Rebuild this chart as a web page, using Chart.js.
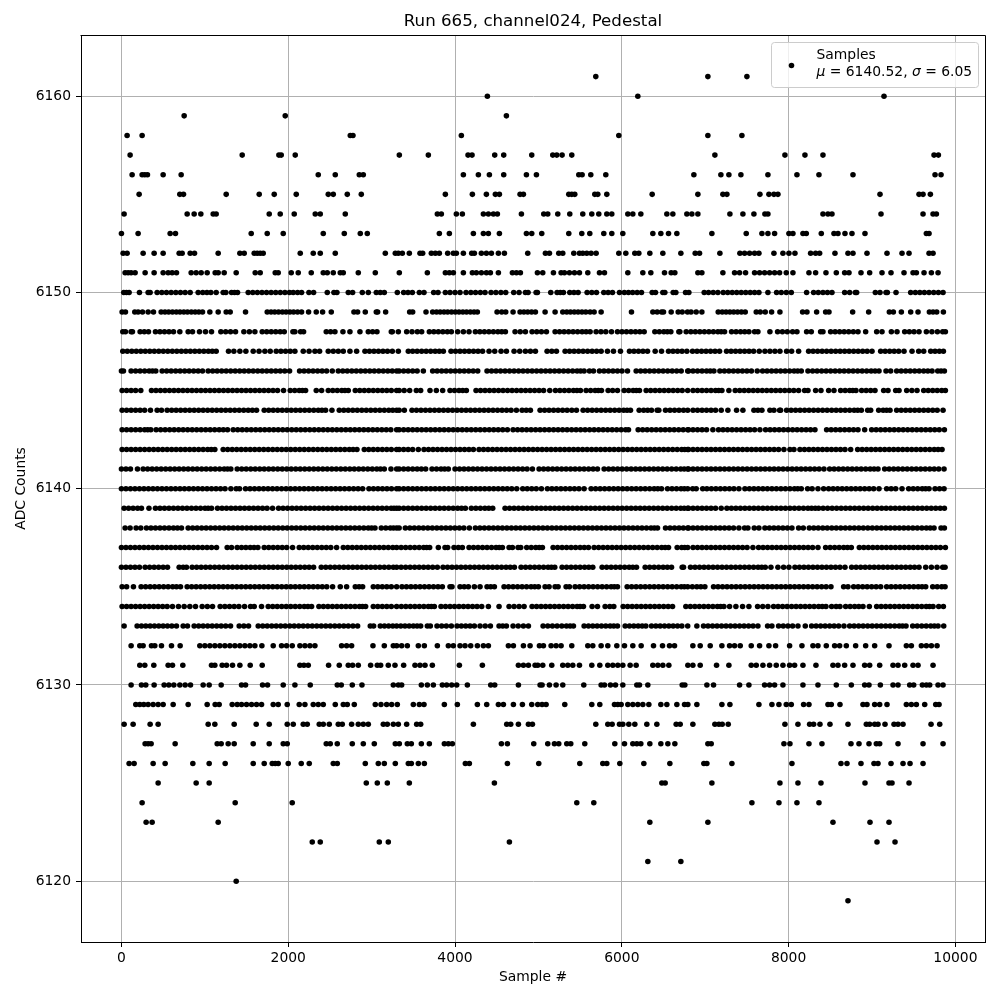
<!DOCTYPE html>
<html>
<head>
<meta charset="utf-8">
<script src="https://cdn.jsdelivr.net/npm/chart.js@4"></script>
<style>
body { margin: 0; background: #fff; }
#box { width: 1000px; height: 1000px; position: relative; }
</style>
</head>
<body>
<div id="box"><canvas id="canvas"></canvas></div>
<script>
const runTitle = "Run 665, channel024, Pedestal";
const xAxisName = "Sample #";
const yAxisName = "ADC Counts";
const xTickValues = [0, 2000, 4000, 6000, 8000, 10000];
const yTickValues = [6120, 6130, 6140, 6150, 6160];

// sample numbers, one list per ADC level
const s6119 = [8712];
const s6120 = [1376];
const s6121 = [6312,6708];
const s6122 = [2288,2384,3092,3200,4652,9060,9276];
const s6123 = [296,368,1160,6336,7032,8532,8976,9204];
const s6124 = [248,1364,2048,5460,5664,7560,7884,8100,8364];
const s6125 = [440,896,1052,2936,3068,3188,3452,4472,6480,6520,7080,7896,8112,8388,8916,9204,9240,9444];
const s6126 = [92,152,380,524,856,1052,1244,1580,1712,1808,1844,1880,2000,2156,2252,2540,2588,2924,3080,3152,3284,3440,3476,3560,3632,4124,4172,4628,5004,5496,5772,5820,5976,6264,6576,6984,7020,7320,8040,8628,8700,8868,9024,9072,9228,9372,9456,9612];
const s6127 = [284,320,356,644,1148,1196,1280,1352,1580,1772,1940,1988,2456,2504,2588,2768,2900,3032,3284,3332,3428,3476,3596,3692,3872,3920,3968,4556,4628,4944,5112,5192,5244,5340,5388,5556,5916,6032,6132,6180,6228,6336,6468,6552,6636,7032,7072,7944,8016,8244,8400,8748,8844,8964,9052,9092,9312,9612,9852];
const s6128 = [32,140,344,440,1040,1120,1352,1616,1772,1988,2060,2180,2228,2372,2420,2492,2600,2648,2760,2840,2900,2960,3140,3188,3260,3320,3420,3540,3588,4220,4620,4668,4760,4880,4928,5688,5832,5884,5972,6012,6084,6156,6300,6420,6652,6700,6852,7116,7164,7204,7276,7956,8112,8252,8300,8376,8496,8712,8932,8972,9032,9072,9156,9264,9312,9372,9708,9812];
const s6129 = [172,220,268,320,380,440,500,620,800,1028,1124,1172,1328,1388,1440,1500,1560,1620,1680,1820,1880,1988,2132,2200,2300,2360,2420,2564,2660,2708,2792,3044,3112,3180,3240,3308,3500,3572,3628,3872,4028,4268,4380,4520,4580,4700,4808,4920,4992,5044,5092,5316,5640,5736,5912,5952,5992,6072,6132,6192,6252,6324,6468,6540,6660,6752,6792,6900,7200,7296,7644,7800,7884,7972,8032,8180,8244,8472,8512,8616,8892,8940,9032,9092,9180,9412,9472,9532,9632,9764,9804];
const s6130 = [116,240,292,392,512,568,628,700,764,828,980,1052,1196,1440,1488,1692,1752,1940,2080,2264,2588,2636,2768,2884,3260,3320,3360,3596,3668,3740,3848,3900,3960,4020,4148,4428,4476,4760,5020,5044,5132,5212,5292,5544,5752,5792,5864,5924,6012,6180,6212,6312,6724,6756,7020,7100,7412,7524,7712,7772,7832,7932,8172,8352,8572,8752,8912,8964,9100,9252,9312,9452,9500,9604,9652,9692,9792,9852];
const s6131 = [220,280,388,560,612,736,1080,1120,1208,1260,1332,1420,1544,1688,2140,2188,2240,2484,2612,2720,2772,2840,2988,3068,3108,3200,3280,3384,3520,3580,3640,3728,4052,4328,4760,4820,4880,4960,4992,5052,5160,5292,5352,5412,5492,5640,5736,5832,5892,5952,6012,6100,6172,6372,6432,6492,6564,6792,6852,6940,7136,7284,7552,7612,7692,7772,7852,7932,8012,8072,8172,8328,8532,8592,8672,8772,8912,8972,9092,9252,9312,9392,9492,9552,9732];
const s6132 = [116,220,260,360,400,480,600,704,940,1000,1060,1120,1180,1240,1300,1360,1420,1480,1540,1600,1684,1820,1920,1980,2048,2140,2200,2260,2320,2640,2700,2760,3016,3152,3260,3300,3360,3428,3560,3632,3788,3920,3980,4060,4120,4188,4268,4340,4400,4640,4700,4820,4900,5012,5060,5152,5212,5272,5400,5592,5652,5752,5832,5940,6032,6132,6232,6380,6488,6572,6632,6852,6940,7060,7200,7292,7352,7420,7552,7652,7764,7844,8012,8160,8292,8352,8452,8552,8612,8692,8804,8924,9032,9204,9412,9472,9592,9652,9712,9780];
const s6133 = [32,188,240,292,344,396,448,500,552,604,660,740,792,872,926,980,1034,1088,1142,1196,1250,1308,1412,1468,1524,1640,1694,1748,1802,1856,1910,1964,2018,2072,2126,2180,2234,2288,2342,2396,2450,2504,2558,2612,2666,2720,2776,2832,2984,3024,3104,3154,3204,3254,3300,3350,3400,3450,3500,3545,3588,3668,3704,3784,3840,3896,3956,4024,4076,4128,4180,4232,4300,4362,4424,4528,4572,4616,4696,4758,4820,4880,5056,5112,5168,5224,5280,5336,5380,5420,5548,5600,5652,5704,5756,5808,5860,5904,5948,6040,6092,6144,6196,6244,6288,6356,6408,6460,6512,6564,6616,6668,6720,6790,6900,6980,7034,7088,7142,7196,7250,7304,7358,7412,7466,7520,7574,7632,7748,7800,7880,7936,7992,8048,8112,8200,8276,8330,8384,8438,8492,8546,8600,8664,8732,8786,8840,8894,8948,9002,9056,9110,9164,9218,9272,9326,9366,9408,9488,9542,9596,9650,9704,9748,9792,9860];
const s6134 = [8,62,116,170,224,278,332,386,440,494,548,612,684,752,820,888,968,1030,1092,1184,1240,1296,1352,1408,1476,1548,1592,1680,1760,1814,1868,1922,1976,2030,2084,2138,2192,2236,2280,2368,2422,2476,2530,2584,2638,2692,2746,2800,2854,2890,2928,3020,3074,3128,3182,3236,3300,3356,3410,3464,3518,3572,3626,3680,3716,3752,3832,3886,3940,3994,4048,4102,4156,4210,4264,4320,4400,4528,4648,4708,4768,4828,4924,4978,5032,5086,5140,5194,5248,5302,5356,5410,5464,5500,5540,5644,5708,5800,5856,5904,6016,6070,6124,6178,6232,6286,6340,6394,6448,6502,6556,6608,6768,6822,6876,6930,6984,7038,7092,7146,7185,7224,7292,7368,7448,7524,7628,7690,7752,7820,7874,7928,7982,8036,8090,8144,8198,8252,8306,8360,8404,8448,8516,8570,8616,8684,8738,8792,8842,8892,8968,9056,9110,9164,9218,9272,9326,9380,9434,9488,9542,9596,9650,9690,9732,9800,9856];
const s6135 = [8,62,144,236,290,344,398,452,506,560,614,660,708,788,842,896,950,1004,1058,1112,1166,1220,1274,1328,1382,1436,1490,1544,1598,1652,1706,1760,1814,1868,1922,1976,2030,2084,2138,2192,2246,2300,2354,2408,2462,2532,2624,2700,2804,2850,2892,3020,3074,3128,3182,3236,3300,3364,3418,3472,3526,3580,3634,3688,3742,3796,3848,3940,3964,4060,4110,4160,4232,4300,4384,4428,4472,4588,4642,4696,4750,4804,4858,4912,4956,5000,5080,5128,5200,5236,5332,5372,5440,5494,5548,5602,5656,5710,5764,5818,5872,5910,5948,6064,6118,6172,6226,6280,6334,6388,6442,6496,6550,6604,6658,6712,6750,6790,6846,6900,6948,6996,7100,7154,7208,7262,7316,7370,7424,7478,7532,7586,7640,7694,7748,7802,7856,7910,7964,8018,8072,8126,8180,8234,8288,8342,8396,8450,8508,8660,8712,8780,8834,8888,8942,8996,9050,9104,9176,9230,9284,9338,9392,9446,9500,9554,9600,9644,9728,9782,9836,9876];
const s6136 = [0,54,108,162,216,284,338,392,446,500,552,692,740,780,848,902,956,1010,1064,1118,1172,1226,1280,1334,1388,1442,1496,1550,1604,1658,1712,1766,1820,1874,1928,1982,2036,2090,2144,2198,2250,2304,2396,2450,2504,2558,2612,2666,2720,2774,2828,2882,2936,2990,3044,3098,3152,3206,3260,3300,3354,3408,3462,3516,3570,3624,3678,3732,3788,3856,3910,3964,4018,4072,4126,4180,4234,4288,4342,4396,4450,4504,4558,4612,4662,4712,4792,4846,4900,4954,5008,5062,5116,5156,5196,5284,5338,5392,5446,5500,5554,5604,5652,5764,5818,5872,5926,5980,6034,6088,6132,6176,6280,6334,6388,6442,6496,6546,6596,6724,6740,6824,6878,6932,6986,7040,7094,7148,7202,7256,7310,7364,7418,7472,7526,7580,7634,7678,7720,7788,7872,7940,8004,8076,8130,8184,8238,8292,8346,8400,8454,8508,8562,8616,8676,8756,8810,8864,8918,8972,9026,9080,9134,9188,9242,9296,9350,9404,9458,9510,9564,9644,9712,9780,9848,9876];
const s6137 = [0,54,108,162,216,270,324,378,432,486,540,594,648,702,756,810,864,918,972,1026,1080,1140,1268,1320,1388,1440,1492,1544,1590,1636,1712,1766,1820,1874,1928,1982,2052,2132,2186,2240,2294,2348,2402,2456,2510,2580,2660,2714,2768,2822,2876,2930,2984,3038,3092,3146,3200,3254,3300,3354,3408,3462,3516,3570,3624,3660,3696,3800,3880,3912,3988,4040,4088,4168,4222,4276,4330,4384,4438,4492,4530,4568,4648,4688,4756,4788,4860,4914,4968,5010,5048,5176,5230,5284,5338,5392,5446,5500,5550,5600,5668,5722,5776,5830,5884,5938,5992,6046,6100,6154,6208,6262,6316,6370,6424,6478,6520,6560,6664,6718,6754,6790,6854,6908,6962,7016,7070,7124,7178,7232,7286,7340,7394,7448,7502,7572,7640,7694,7748,7802,7856,7910,7964,8018,8072,8126,8180,8234,8288,8352,8444,8498,8552,8606,8660,8706,8752,8848,8902,8956,9010,9064,9118,9172,9226,9280,9334,9388,9442,9496,9550,9604,9658,9712,9766,9820,9880];
const s6138 = [44,104,176,232,300,354,408,462,516,570,624,672,720,800,854,908,962,1016,1070,1124,1178,1232,1286,1340,1394,1448,1502,1556,1610,1664,1718,1772,1826,1880,1934,1988,2042,2096,2150,2204,2258,2312,2366,2420,2474,2528,2582,2636,2690,2744,2798,2852,2906,2960,3000,3040,3116,3170,3224,3262,3300,3330,3404,3458,3512,3566,3620,3674,3728,3782,3836,3890,3944,3998,4052,4106,4172,4244,4298,4352,4406,4460,4514,4568,4622,4676,4730,4784,4838,4892,4946,5000,5054,5108,5162,5216,5270,5324,5378,5432,5486,5540,5594,5648,5702,5756,5810,5864,5918,5972,6026,6080,6134,6188,6242,6296,6350,6390,6428,6524,6578,6632,6686,6738,6790,6800,6854,6908,6962,7016,7070,7124,7178,7232,7286,7340,7404,7472,7512,7588,7644,7716,7770,7824,7878,7932,7986,8040,8120,8176,8248,8302,8356,8410,8464,8518,8572,8626,8680,8734,8788,8842,8896,8950,9004,9058,9112,9166,9220,9274,9328,9382,9436,9490,9544,9598,9652,9698,9744,9828,9868];
const s6139 = [32,86,140,194,240,330,408,462,516,570,624,678,732,786,840,894,948,1002,1040,1080,1152,1206,1260,1314,1368,1422,1476,1530,1584,1638,1692,1746,1812,1884,1938,1992,2046,2100,2154,2208,2262,2316,2370,2424,2478,2532,2586,2640,2694,2748,2802,2856,2910,2964,3018,3072,3126,3180,3234,3268,3300,3330,3384,3438,3492,3546,3600,3654,3708,3762,3816,3870,3924,3978,4032,4078,4124,4196,4250,4304,4358,4405,4452,4600,4654,4708,4762,4816,4870,4924,4978,5032,5086,5140,5194,5248,5302,5356,5410,5464,5518,5572,5626,5680,5734,5788,5842,5896,5950,6004,6058,6112,6166,6220,6274,6328,6382,6436,6490,6544,6598,6652,6706,6748,6790,6800,6854,6908,6962,7016,7070,7124,7192,7260,7314,7368,7422,7476,7530,7584,7638,7692,7746,7800,7854,7908,7962,8016,8070,8124,8178,8232,8276,8320,8360,8414,8468,8522,8576,8630,8684,8738,8792,8846,8900,8954,9008,9062,9116,9170,9224,9278,9332,9386,9440,9494,9548,9602,9656,9710,9764,9818,9868];
const s6140 = [0,54,108,162,216,270,324,378,432,486,540,594,648,702,756,810,864,918,972,1026,1080,1134,1188,1242,1312,1376,1416,1488,1542,1596,1650,1704,1758,1812,1866,1920,1974,2028,2082,2136,2190,2244,2298,2352,2406,2460,2514,2568,2622,2676,2730,2784,2838,2892,2968,3022,3076,3130,3184,3238,3300,3330,3384,3438,3492,3546,3600,3654,3708,3762,3816,3870,3924,3978,4032,4086,4140,4194,4248,4302,4356,4410,4464,4518,4572,4626,4680,4740,4812,4866,4920,4974,5036,5108,5162,5216,5270,5324,5378,5432,5486,5548,5632,5686,5740,5794,5848,5902,5956,6010,6064,6118,6172,6226,6280,6334,6388,6432,6476,6548,6602,6656,6710,6750,6790,6850,6892,6970,7020,7074,7128,7182,7236,7290,7344,7404,7476,7530,7584,7638,7692,7746,7800,7854,7908,7962,8016,8070,8110,8152,8228,8282,8352,8420,8480,8534,8588,8642,8696,8750,8804,8858,8912,8966,9020,9084,9176,9230,9284,9360,9440,9494,9548,9602,9643,9684,9756,9810,9864];
const s6141 = [0,54,108,192,260,314,368,422,476,530,584,638,692,746,800,854,908,962,1016,1070,1124,1178,1232,1272,1312,1388,1442,1496,1550,1604,1658,1712,1766,1820,1874,1928,1982,2036,2090,2144,2198,2252,2306,2360,2414,2468,2522,2576,2630,2684,2738,2792,2846,2900,2954,3008,3062,3106,3152,3232,3300,3330,3384,3438,3492,3546,3596,3648,3724,3778,3832,3876,3920,4000,4054,4108,4162,4216,4270,4324,4378,4432,4486,4540,4594,4648,4702,4756,4810,4864,4928,5008,5062,5116,5170,5224,5278,5332,5386,5440,5494,5548,5602,5656,5708,5788,5842,5896,5950,6004,6058,6112,6166,6220,6274,6328,6382,6436,6490,6544,6598,6652,6706,6748,6790,6800,6854,6908,6962,7016,7070,7124,7178,7232,7286,7340,7394,7448,7502,7556,7610,7664,7718,7772,7826,7880,7934,7988,8042,8096,8150,8204,8258,8312,8366,8424,8492,8546,8600,8654,8708,8762,8816,8870,8924,8978,9025,9072,9152,9206,9260,9314,9368,9422,9476,9530,9584,9638,9692,9746,9800,9864];
const s6142 = [8,62,116,170,224,278,332,386,440,494,548,602,656,710,764,818,872,926,980,1034,1077,1120,1220,1274,1328,1382,1436,1490,1544,1598,1652,1706,1760,1814,1868,1922,1976,2030,2084,2138,2192,2246,2300,2354,2408,2462,2516,2570,2624,2678,2732,2778,2824,2912,2966,3020,3074,3128,3182,3236,3300,3330,3384,3438,3492,3560,3628,3682,3736,3790,3844,3898,3952,4006,4060,4114,4167,4220,4288,4342,4396,4450,4504,4558,4612,4666,4720,4774,4828,4882,4936,4990,5044,5098,5152,5206,5260,5314,5368,5422,5476,5530,5584,5638,5692,5746,5800,5854,5908,5962,6016,6070,6124,6178,6232,6286,6340,6394,6448,6502,6556,6610,6664,6718,6754,6790,6800,6854,6908,6962,7016,7070,7124,7178,7232,7286,7340,7394,7448,7502,7556,7610,7664,7718,7772,7826,7880,7944,8016,8064,8136,8190,8244,8298,8352,8406,8460,8514,8568,8622,8676,8744,8828,8882,8936,8990,9044,9098,9152,9206,9260,9314,9368,9422,9476,9530,9584,9638,9692,9746,9793,9840];
const s6143 = [8,62,116,170,224,278,315,352,416,470,524,578,632,686,740,794,848,902,956,1010,1064,1118,1172,1222,1272,1340,1394,1448,1502,1556,1610,1664,1718,1772,1826,1880,1934,1988,2042,2096,2150,2204,2258,2312,2366,2420,2474,2528,2582,2636,2690,2744,2798,2852,2906,2960,3014,3068,3122,3176,3230,3300,3330,3384,3438,3492,3546,3600,3654,3708,3762,3816,3870,3924,3978,4032,4086,4140,4194,4248,4302,4356,4410,4464,4518,4572,4628,4696,4750,4804,4858,4912,4966,5020,5074,5128,5182,5236,5290,5344,5398,5452,5506,5560,5614,5668,5722,5776,5830,5884,5938,5992,6046,6080,6196,6250,6304,6358,6412,6466,6520,6574,6628,6682,6736,6790,6800,6854,6908,6962,7016,7092,7160,7214,7268,7322,7376,7430,7484,7538,7592,7656,7724,7778,7832,7886,7940,7994,8048,8102,8156,8210,8263,8316,8456,8510,8564,8618,8672,8726,8779,8832,8912,8996,9050,9104,9158,9212,9266,9320,9374,9428,9482,9536,9590,9644,9698,9752,9806,9868];
const s6144 = [8,62,116,170,224,278,348,428,480,548,602,656,710,764,818,872,926,980,1034,1088,1142,1196,1250,1304,1358,1412,1466,1520,1570,1620,1712,1766,1820,1874,1928,1982,2036,2090,2144,2198,2252,2306,2360,2404,2448,2524,2612,2666,2720,2774,2828,2882,2936,2990,3044,3098,3152,3206,3253,3300,3330,3392,3484,3538,3592,3646,3700,3754,3808,3862,3916,3970,4024,4078,4132,4186,4240,4294,4348,4402,4456,4510,4564,4618,4672,4736,4804,4854,4904,5020,5074,5128,5182,5236,5290,5344,5400,5456,5536,5590,5644,5698,5752,5806,5860,5914,5968,6022,6063,6104,6208,6262,6310,6356,6424,6444,6524,6578,6632,6686,6740,6790,6854,6908,6962,7016,7070,7124,7192,7272,7376,7452,7584,7632,7680,7776,7824,7892,7904,7976,8030,8084,8138,8192,8246,8300,8354,8408,8462,8516,8570,8624,8678,8732,8786,8829,8872,8948,8984,9080,9134,9175,9216,9296,9350,9404,9458,9512,9566,9620,9674,9728,9782,9852];
const s6145 = [8,62,116,170,232,360,414,468,522,576,630,684,738,792,846,900,954,1008,1062,1116,1170,1224,1278,1332,1386,1440,1494,1548,1602,1656,1710,1764,1818,1872,1944,2024,2078,2132,2170,2208,2336,2400,2480,2534,2588,2642,2680,2720,2804,2858,2912,2966,3020,3074,3128,3182,3236,3300,3330,3390,3456,3536,3588,3700,3776,3852,3940,3994,4048,4092,4136,4252,4306,4360,4414,4468,4522,4576,4630,4684,4738,4792,4846,4900,4954,5008,5062,5136,5204,5258,5312,5366,5420,5462,5504,5572,5626,5680,5718,5756,5836,5890,5948,6028,6082,6136,6174,6212,6292,6346,6400,6454,6508,6562,6616,6670,6724,6790,6854,6908,6962,7016,7070,7124,7162,7200,7284,7360,7414,7468,7522,7576,7630,7684,7738,7792,7846,7900,7954,8008,8062,8120,8192,8232,8324,8388,8480,8544,8624,8678,8732,8770,8808,8876,8930,8984,9036,9140,9192,9284,9324,9416,9478,9540,9620,9674,9728,9782,9836,9880];
const s6146 = [0,24,116,170,224,278,332,372,412,488,542,596,650,704,758,812,866,920,972,1040,1094,1148,1202,1256,1310,1364,1418,1472,1526,1580,1634,1688,1742,1796,1850,1904,1958,2016,2136,2190,2244,2298,2352,2406,2460,2528,2600,2654,2708,2762,2816,2870,2924,2978,3032,3086,3140,3194,3247,3300,3330,3384,3438,3492,3546,3620,3732,3786,3840,3894,3948,4002,4056,4110,4164,4218,4272,4384,4438,4492,4546,4600,4654,4708,4762,4816,4870,4924,4978,5032,5086,5140,5194,5248,5302,5356,5410,5464,5506,5548,5612,5660,5732,5786,5840,5894,5948,6002,6068,6172,6226,6280,6334,6388,6442,6496,6550,6604,6658,6712,6790,6800,6854,6908,6962,7016,7060,7104,7176,7230,7284,7338,7392,7446,7500,7554,7624,7688,7742,7796,7850,7904,7958,8012,8066,8109,8152,8232,8288,8342,8396,8450,8504,8558,8612,8666,8720,8774,8828,8882,8936,8990,9037,9084,9168,9224,9296,9350,9404,9458,9512,9566,9620,9670,9720,9788,9828,9868];
const s6147 = [16,70,124,178,232,286,340,394,448,502,556,610,664,718,772,826,880,934,988,1042,1089,1136,1284,1348,1420,1492,1580,1650,1720,1784,1856,1912,1968,2024,2080,2180,2250,2320,2376,2480,2540,2600,2660,2740,2820,2920,2974,3028,3082,3136,3190,3248,3320,3440,3492,3546,3600,3654,3708,3762,3811,3860,3952,4006,4060,4114,4168,4222,4276,4330,4408,4476,4552,4616,4708,4776,4844,4904,4964,5104,5160,5216,5320,5374,5428,5482,5536,5590,5644,5698,5752,5828,5900,5984,6092,6146,6200,6254,6308,6400,6476,6560,6614,6668,6722,6780,6848,6902,6956,7010,7064,7118,7172,7256,7310,7364,7418,7472,7526,7580,7648,7716,7776,7836,7896,7976,8036,8120,8240,8294,8348,8402,8456,8510,8564,8618,8672,8726,8780,8834,8888,8942,9000,9104,9158,9212,9266,9320,9384,9480,9560,9620,9704,9756,9808,9856];
const s6148 = [16,48,116,132,224,274,324,408,462,516,570,624,700,800,852,936,1008,1080,1192,1250,1308,1368,1468,1534,1600,1688,1742,1796,1850,1904,1952,2056,2080,2148,2184,2456,2508,2560,2656,2740,2860,2960,3012,3064,3236,3248,3320,3420,3484,3548,3600,3692,3746,3800,3854,3908,3956,4032,4100,4168,4244,4298,4352,4406,4460,4514,4560,4604,4720,4782,4844,4924,4980,5036,5096,5200,5254,5308,5362,5416,5470,5524,5572,5620,5692,5750,5808,5876,5948,6002,6056,6110,6164,6216,6268,6396,6450,6504,6546,6588,6684,6696,6772,6828,6882,6936,6990,7044,7098,7152,7192,7232,7316,7370,7424,7474,7524,7592,7632,7776,7868,7926,7984,8048,8100,8216,8272,8384,8412,8504,8558,8612,8666,8720,8776,8832,8924,9056,9120,9232,9300,9392,9448,9504,9564,9652,9718,9784,9848,9880];
const s6149 = [8,48,160,200,252,320,384,476,522,566,612,658,702,748,792,838,884,928,972,1060,1160,1256,1304,1488,1748,1794,1838,1884,1930,1974,2020,2064,2112,2160,2244,2336,2412,2516,2788,2832,2924,3056,3072,3168,3456,3492,3652,3732,3778,3822,3868,3912,3958,4004,4048,4094,4138,4184,4228,4268,4504,4560,4608,4696,4780,4826,4872,4918,4964,5080,5200,5292,5340,5384,5430,5476,5522,5568,5620,5668,5752,6116,6372,6424,6476,6500,6592,6676,6724,6788,6830,6892,6960,7156,7204,7250,7296,7342,7388,7434,7480,7612,7660,7720,7796,7896,8168,8220,8336,8444,8484,8768,8960,9208,9256,9352,9464,9552,9688,9732,9776,9856];
const s6150 = [28,60,92,216,320,344,428,484,540,596,652,708,764,824,920,975,1025,1072,1136,1220,1252,1320,1356,1392,1520,1575,1630,1685,1740,1795,1850,1905,1960,2015,2060,2112,2160,2248,2304,2468,2548,2584,2720,2772,2888,2960,3056,3104,3152,3308,3384,3436,3488,3572,3628,3744,3796,3884,3940,4000,4060,4132,4190,4246,4304,4360,4432,4490,4550,4608,4704,4768,4844,4876,4972,4988,5148,5224,5262,5300,5376,5426,5476,5584,5640,5696,5784,5836,5888,5972,6030,6080,6130,6184,6236,6364,6404,6492,6516,6616,6648,6764,6804,6988,7040,7096,7152,7216,7270,7324,7378,7432,7486,7540,7592,7644,7752,7856,7912,7972,8032,8216,8300,8356,8412,8466,8520,8672,8732,8800,8816,9040,9096,9168,9184,9288,9464,9520,9574,9628,9684,9740,9796,9852];
const s6151 = [44,80,116,164,284,392,500,560,608,660,836,896,956,1028,1124,1160,1232,1376,1604,1664,1844,1880,2036,2120,2276,2420,2468,2540,2624,2660,2840,3044,3332,3668,3884,3932,3980,4100,4208,4256,4316,4376,4424,4520,4688,4736,4784,4988,5052,5180,5272,5312,5372,5432,5492,5592,5732,5792,6072,6252,6348,6512,6592,6636,6912,6960,7212,7352,7412,7484,7592,7652,7712,7772,7832,7892,7972,8052,8244,8324,8448,8572,8672,8724,8868,8972,9120,9228,9384,9492,9532,9624,9712,9792];
const s6152 = [20,68,260,392,500,692,728,824,876,1160,1420,1472,1592,1628,1664,1700,2144,2300,2384,2564,3164,3284,3320,3368,3452,3580,3612,3716,3764,3812,3912,3980,4016,4100,4200,4232,4316,4376,4436,4520,4592,4872,5084,5132,5244,5292,5424,5492,5532,5580,5632,5692,5964,6048,6156,6204,6336,6492,6708,6880,6932,7176,7416,7472,7532,7592,7644,7824,7932,8004,8076,8264,8324,8372,8556,8712,8772,8940,9180,9360,9444,9684,9732];
const s6153 = [0,200,584,648,1556,1748,1940,2420,2672,2864,2948,3812,3932,4220,4340,4400,4532,4856,4920,5040,5364,5520,5616,5784,5880,6012,6372,6468,6560,6660,7080,7492,7680,7752,7832,8004,8052,8172,8212,8392,8544,8592,8676,8760,8916,9652,9684];
const s6154 = [32,788,872,952,1100,1136,1772,1904,2072,2324,2384,2684,3788,3836,4016,4088,4340,4400,4460,4508,4796,5064,5112,5232,5376,5532,5640,5724,5820,5880,6072,6132,6228,6540,6612,6780,6840,6912,7296,7452,7584,7716,7752,8412,8472,8520,9108,9612,9732,9772];
const s6155 = [212,700,744,1256,1652,1832,2096,2480,2540,2708,2876,3884,4208,4376,4484,4532,4780,4820,5364,5400,5436,5676,5712,5820,6364,6912,7212,7260,7656,7764,7824,7872,9096,9564,9612,9700];
const s6156 = [128,248,280,312,500,716,2360,2564,2852,2900,4100,4280,4412,4584,4856,4976,5484,5524,5628,5808,6864,7188,7284,7428,7752,8100,8364,8772,9756,9828];
const s6157 = [104,1448,1888,1916,2084,3332,3680,4156,4204,4476,4584,4920,5172,5220,5284,5400,7116,7956,8196,8412,9744,9796];
const s6158 = [68,248,2744,2776,4076,5964,7032,7440];
const s6159 = [752,1964,4616];
const s6160 = [4388,6192,9144];
const s6161 = [5688,7032,7500];

const adcLevels = [
  [6119,s6119],[6120,s6120],[6121,s6121],[6122,s6122],[6123,s6123],[6124,s6124],[6125,s6125],
  [6126,s6126],[6127,s6127],[6128,s6128],[6129,s6129],[6130,s6130],[6131,s6131],[6132,s6132],
  [6133,s6133],[6134,s6134],[6135,s6135],[6136,s6136],[6137,s6137],[6138,s6138],[6139,s6139],
  [6140,s6140],[6141,s6141],[6142,s6142],[6143,s6143],[6144,s6144],[6145,s6145],[6146,s6146],
  [6147,s6147],[6148,s6148],[6149,s6149],[6150,s6150],[6151,s6151],[6152,s6152],[6153,s6153],
  [6154,s6154],[6155,s6155],[6156,s6156],[6157,s6157],[6158,s6158],[6159,s6159],[6160,s6160],[6161,s6161]
];

let points = [];
adcLevels.forEach(level=>{
    level[1].forEach(sample=>{
        points.push({x: sample, y: level[0]});
    });
});

const fontFamily = '"DejaVu Sans"';

// top and right spines plus the matplotlib style legend box
const framePlugin = {
    id: 'frame',
    afterDraw(chart){
        const ctx = chart.ctx;
        const a = chart.chartArea;
        ctx.save();
        ctx.strokeStyle = '#000';
        ctx.lineWidth = 1;
        ctx.beginPath();
        ctx.moveTo(a.left - 0.5, a.top + 0.5);
        ctx.lineTo(a.right + 0.5, a.top + 0.5);
        ctx.lineTo(a.right + 0.5, a.bottom);
        ctx.stroke();

        ctx.fillStyle = 'rgba(255,255,255,0.8)';
        ctx.strokeStyle = '#ccc';
        ctx.beginPath();
        ctx.roundRect(771.5, 42.5, 207, 45, 3);
        ctx.fill();
        ctx.stroke();

        ctx.fillStyle = '#000';
        ctx.beginPath();
        ctx.arc(791.5, 65.5, 2.78, 0, Math.PI*2);
        ctx.fill();

        ctx.textBaseline = 'alphabetic';
        ctx.font = '13.89px ' + fontFamily;
        ctx.fillText('Samples', 816.5, 59);
        let x = 816.5;
        [['μ',true],[' = 6140.52, ',false],['σ',true],[' = 6.05',false]].forEach(part=>{
            ctx.font = (part[1] ? 'italic ' : '') + '13.89px ' + fontFamily;
            ctx.fillText(part[0], x, 76);
            x += ctx.measureText(part[0]).width;
        });
        ctx.restore();
    }
};

new Chart(document.getElementById('canvas').getContext('2d'), {
    type: 'scatter',
    plugins: [framePlugin],
    data: {
        datasets: [{
            label: 'Samples',
            data: points,
            backgroundColor: '#000',
            borderWidth: 0,
            pointRadius: 2.78
        }]
    },
    options: {
        responsive: true,
        maintainAspectRatio: false,
        animation: false,
        events: [],
        layout: { padding: { right: 15 } },
        plugins: {
            legend: { display: false },
            tooltip: { enabled: false },
            title: {
                display: true,
                fullSize: false,
                text: runTitle,
                color: '#000',
                font: { family: fontFamily, size: 16.67, weight: 'normal' },
                padding: { top: 12, bottom: 3 }
            }
        },
        scales: {
            x: {
                type: 'linear',
                min: -485,
                max: 10355,
                afterFit: s => { s.height = 58; },
                afterBuildTicks: s => { s.ticks = xTickValues.map(v=>({value: v})); },
                grid: { color: '#b0b0b0', lineWidth: 1, tickColor: '#000', tickLength: 5 },
                border: { color: '#000', width: 1 },
                ticks: {
                    color: '#000',
                    padding: 3,
                    maxRotation: 0,
                    font: { family: fontFamily, size: 13.89 },
                    callback: v => String(v)
                },
                title: {
                    display: true,
                    text: xAxisName,
                    color: '#000',
                    font: { family: fontFamily, size: 13.89 },
                    padding: { top: 0, bottom: 14.7 }
                }
            },
            y: {
                type: 'linear',
                min: 6116.9,
                max: 6163.12,
                afterFit: s => { s.width = 81; },
                afterBuildTicks: s => { s.ticks = yTickValues.map(v=>({value: v})); },
                grid: { color: '#b0b0b0', lineWidth: 1, tickColor: '#000', tickLength: 5 },
                border: { color: '#000', width: 1 },
                ticks: {
                    color: '#000',
                    padding: 5,
                    font: { family: fontFamily, size: 13.89 },
                    callback: v => String(v)
                },
                title: {
                    display: true,
                    text: yAxisName,
                    color: '#000',
                    font: { family: fontFamily, size: 13.89 },
                    padding: { top: 12.7, bottom: 0 }
                }
            }
        }
    }
});
</script>
</body>
</html>
